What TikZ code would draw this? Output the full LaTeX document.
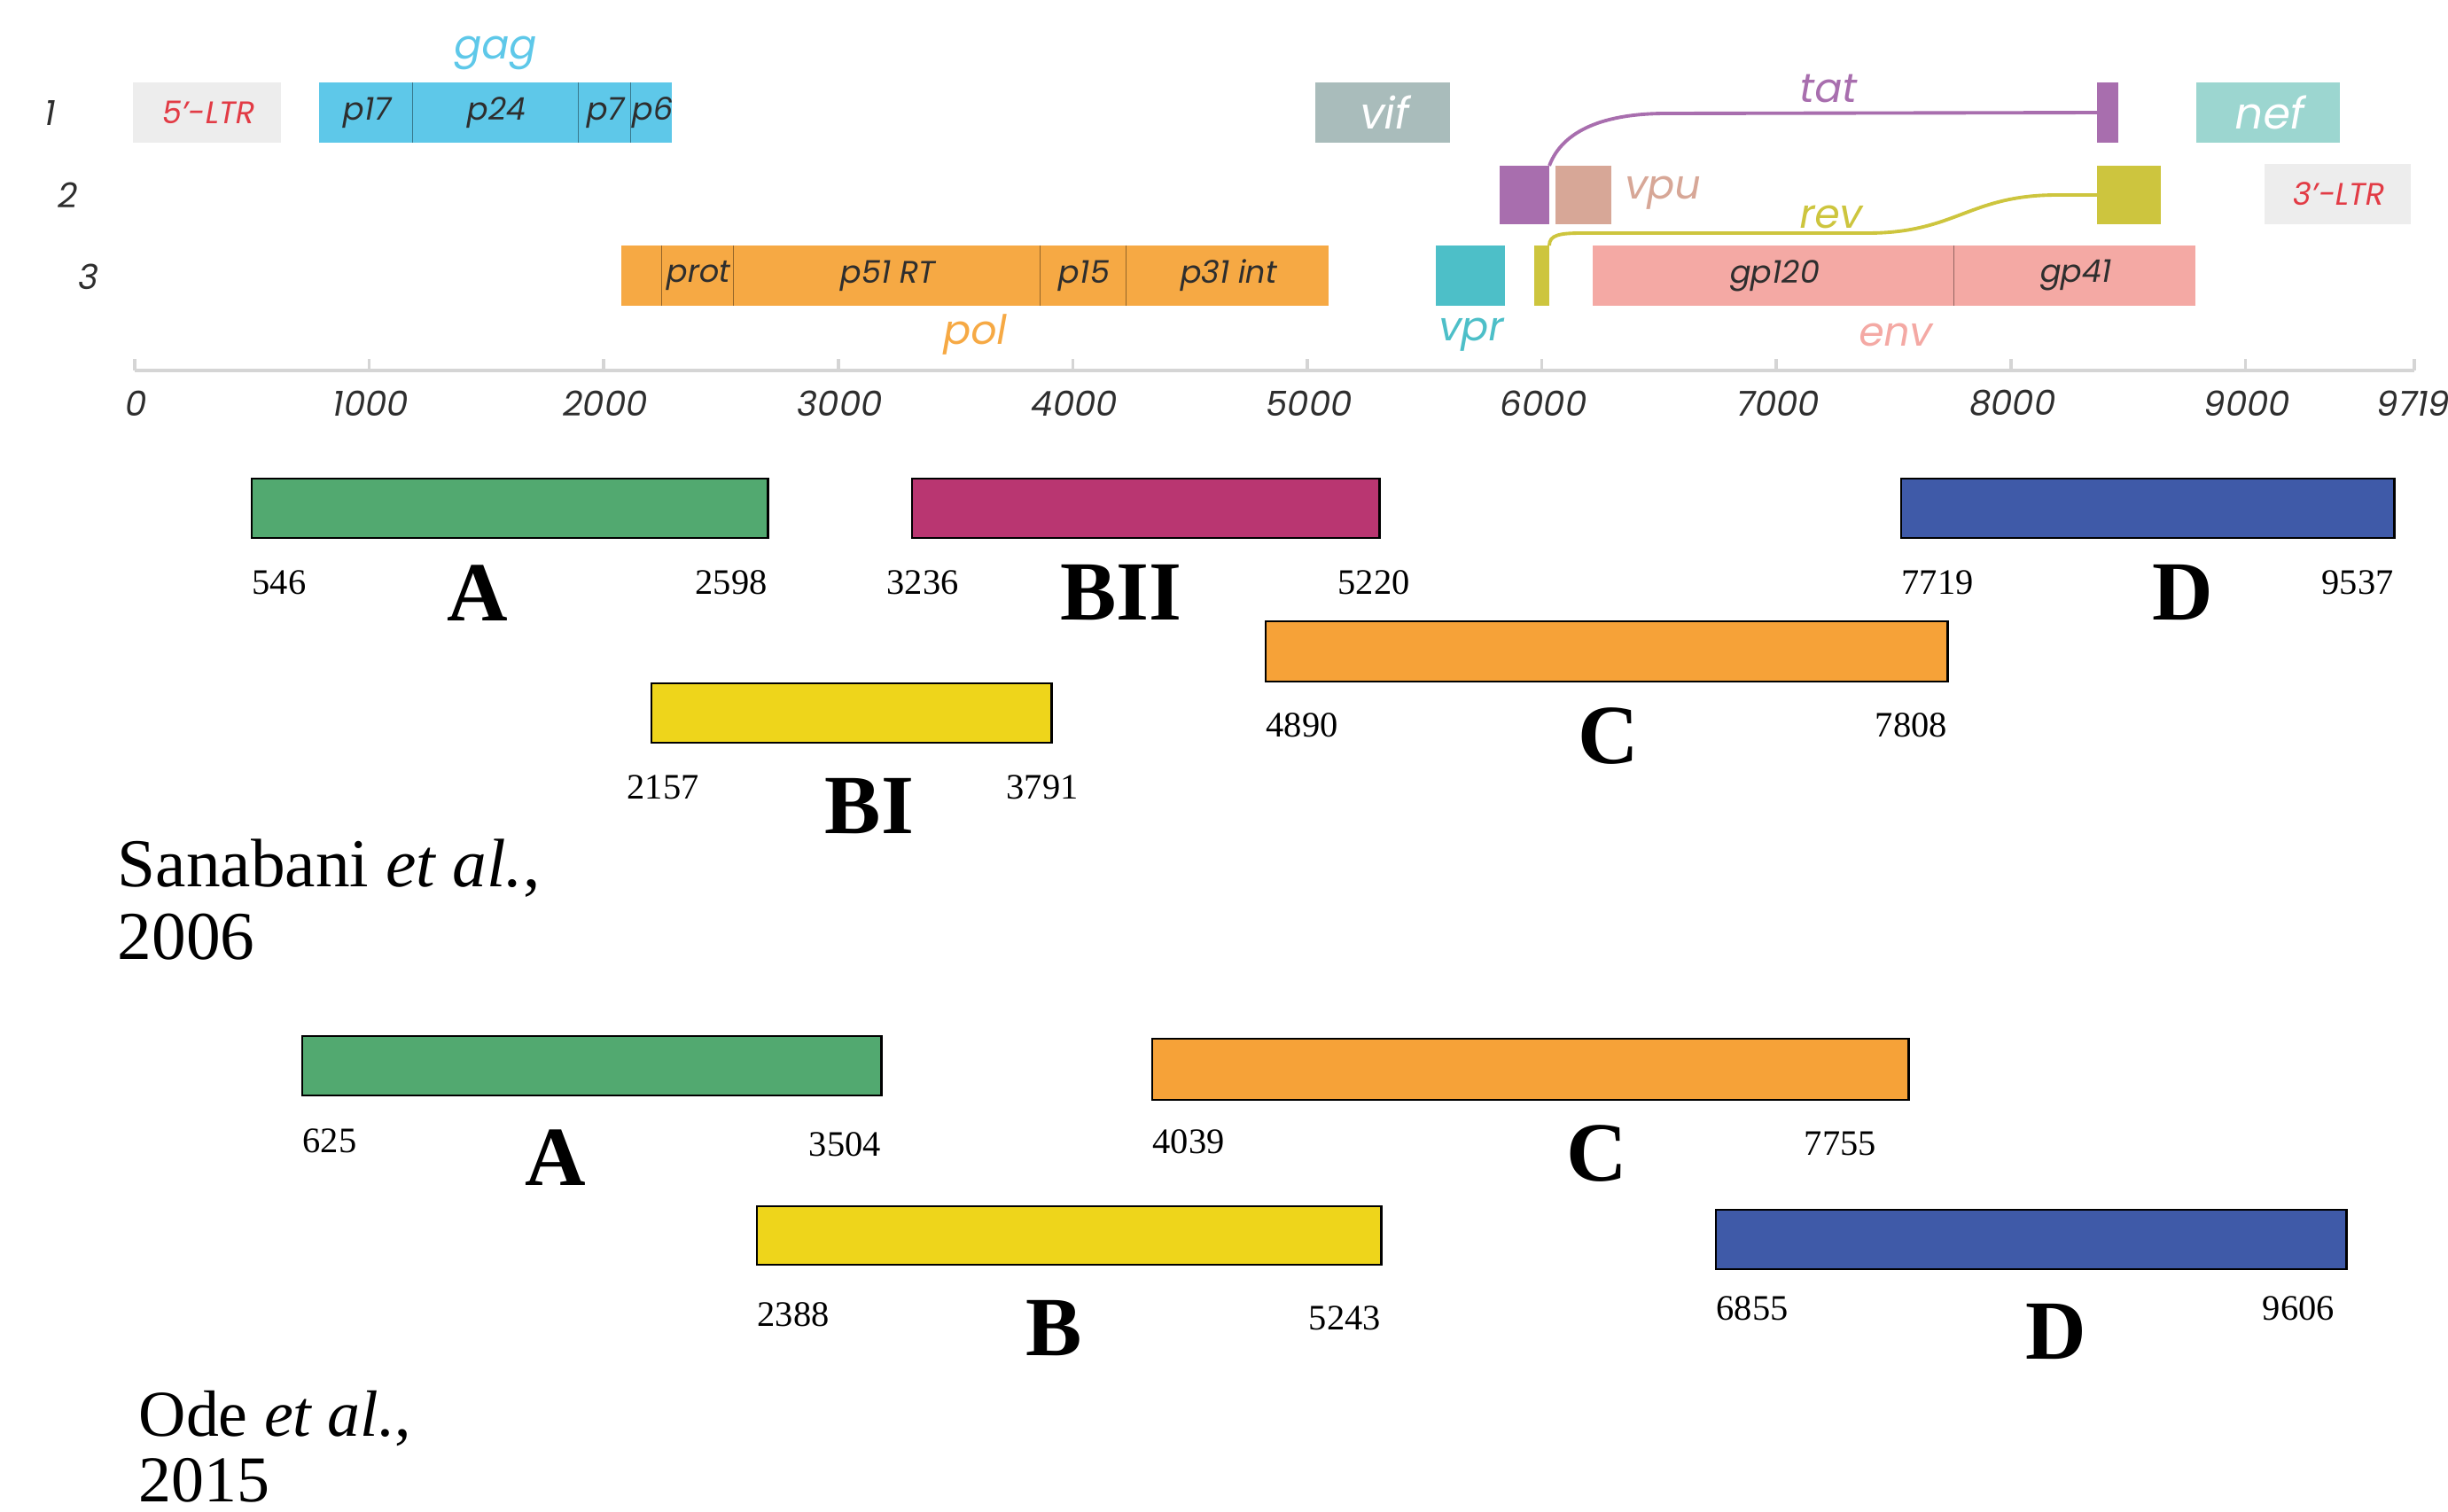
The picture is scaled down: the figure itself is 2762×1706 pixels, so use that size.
\documentclass[tikz,border=0pt]{standalone}
\usepackage{fontspec}
\setmainfont{Liberation Serif}
\newfontfamily\mapfont{Poppins}[FakeSlant=0.18]
\usetikzlibrary{positioning}

\definecolor{ltrgray}{HTML}{EDEDED}
\definecolor{ltrred}{HTML}{E23B45}
\definecolor{gagblue}{HTML}{5EC8E9}
\definecolor{vifgray}{HTML}{A9BCBB}
\definecolor{tatpurple}{HTML}{A86EAE}
\definecolor{nefteal}{HTML}{9CD6D0}
\definecolor{vpurose}{HTML}{D7A797}
\definecolor{revolive}{HTML}{CDC53E}
\definecolor{polorange}{HTML}{F6A944}
\definecolor{vprcyan}{HTML}{4DBFC8}
\definecolor{envpink}{HTML}{F4A9A4}
\definecolor{axisgray}{HTML}{D5D5D5}
\definecolor{inkgray}{HTML}{2E2E2E}
\definecolor{subA}{HTML}{52A970}
\definecolor{subBII}{HTML}{B93671}
\definecolor{subD}{HTML}{3F5AA8}
\definecolor{subC}{HTML}{F6A238}
\definecolor{subB}{HTML}{EED51B}

\begin{document}
\begin{tikzpicture}
   [
      x=0.01cm, y=-0.01cm,
      gene box/.style={rectangle, anchor=north west, inner sep=0pt, outer sep=0pt,
                       minimum height=0.68cm, text=inkgray,
                       font=\mapfont\fontsize{10}{12}\selectfont},
      divider/.style={line width=0.3pt},
      gene label/.style={inner sep=0pt, font=\mapfont\fontsize{13}{15}\selectfont},
      row number/.style={inner sep=0pt, text=inkgray, font=\mapfont\fontsize{11}{13}\selectfont},
      axis line/.style={line width=1pt, axisgray},
      tick label/.style={inner sep=0pt, text=inkgray, font=\mapfont\fontsize{11}{13}\selectfont},
      splice line/.style={line width=1.1pt},
      subtype bar/.style={rectangle, draw=black, line width=0.7pt, anchor=north west,
                          inner sep=0pt, outer sep=0pt, minimum height=0.67cm},
      pos label/.style={inner sep=0pt, font=\fontsize{11.5}{13}\selectfont},
      subtype letter/.style={inner sep=0pt, font=\bfseries\fontsize{27}{30}\selectfont},
      author/.style={inner sep=0pt, anchor=base west, font=\fontsize{22}{26}\selectfont}
   ]

   \useasboundingbox (0,0) rectangle (2762,1706);

   % =======================================================
   % Genome map: reading frames 1, 2, 3
   % =======================================================

   \node[row number] (row1) at (55,128) {1};
   \node[row number] (row2) at (75,220) {2};
   \node[row number] (row3) at (98,312) {3};

   % Frame 1
   \node[gene box, fill=ltrgray, text=ltrred, minimum width=1.67cm] (ltr5) at (150,93) {5’-LTR};
   \node[gene box, fill=gagblue, minimum width=1.05cm] (p17) at (360,93) {p17};
   \node[gene box, fill=gagblue, minimum width=1.87cm] (p24) at (465,93) {p24};
   \node[gene box, fill=gagblue, minimum width=0.59cm] (p7) at (652,93) {p7};
   \node[gene box, fill=gagblue, minimum width=0.47cm] (p6) at (711,93) {p6};
   \node[gene box, fill=vifgray, text=white, minimum width=1.52cm,
         font=\mapfont\fontsize{14}{16}\selectfont] (vif) at (1484,93) {vif};
   \node[gene box, fill=tatpurple, minimum width=0.24cm] (tat2) at (2366,93) {};
   \node[gene box, fill=nefteal, text=white, minimum width=1.62cm,
         font=\mapfont\fontsize{14}{16}\selectfont] (nef) at (2478,93) {nef};

   \draw[divider, gagblue!60!black] (p17.north east) -- (p17.south east);
   \draw[divider, gagblue!60!black] (p24.north east) -- (p24.south east);
   \draw[divider, gagblue!60!black] (p7.north east) -- (p7.south east);

   % Frame 2
   \node[gene box, fill=tatpurple, minimum width=0.56cm, minimum height=0.66cm] (tat1) at (1692,187) {};
   \node[gene box, fill=vpurose, minimum width=0.63cm, minimum height=0.66cm] (vpu) at (1755,187) {};
   \node[gene box, fill=revolive, minimum width=0.72cm, minimum height=0.66cm] (rev2) at (2366,187) {};
   \node[gene box, fill=ltrgray, text=ltrred, minimum width=1.65cm] (ltr3) at (2555,185) {3’-LTR};

   % Frame 3
   \node[gene box, fill=polorange, minimum width=0.45cm] (polstart) at (701,277) {};
   \node[gene box, fill=polorange, minimum width=0.81cm] (prot) at (746,277) {prot};
   \node[gene box, fill=polorange, minimum width=3.46cm] (p51) at (827,277) {p51 RT};
   \node[gene box, fill=polorange, minimum width=0.97cm] (p15) at (1173,277) {p15};
   \node[gene box, fill=polorange, minimum width=2.29cm] (p31) at (1270,277) {p31 int};
   \node[gene box, fill=vprcyan, minimum width=0.78cm] (vpr) at (1620,277) {};
   \node[gene box, fill=revolive, minimum width=0.17cm] (rev1) at (1731,277) {};
   \node[gene box, fill=envpink, minimum width=4.07cm] (gp120) at (1797,277) {gp120};
   \node[gene box, fill=envpink, minimum width=2.73cm] (gp41) at (2204,277) {gp41};

   \draw[divider, polorange!60!black] (polstart.north east) -- (polstart.south east);
   \draw[divider, polorange!60!black] (prot.north east) -- (prot.south east);
   \draw[divider, polorange!60!black] (p51.north east) -- (p51.south east);
   \draw[divider, polorange!60!black] (p15.north east) -- (p15.south east);
   \draw[divider, envpink!60!black] (gp120.north east) -- (gp120.south east);

   % Spliced genes
   \coordinate (tatbend) at (1880,128);
   \draw[splice line, tatpurple] (tat1.north east) .. controls +(15,-40) and +(-70,0) .. (tatbend) -- (tat2.west);

   \coordinate (revlow) at (1785,263);
   \coordinate (revrise) at (2107,263);
   \coordinate (revtop) at (2321,220);
   \draw[splice line, revolive] (rev1.north east) .. controls +(0,-12) and +(-25,0) .. (revlow)
      -- (revrise) .. controls +(100,0) and +(-100,0) .. (revtop) -- (rev2.west);

   % Gene names
   \node[gene label, text=gagblue] (gaglab) at (557,60) {gag};
   \node[gene label, text=tatpurple] (tatlab) at (2061,100) {tat};
   \node[gene label, text=vpurose] (vpulab) at (1874,218) {vpu};
   \node[gene label, text=revolive] (revlab) at (2064,245) {rev};
   \node[gene label, text=polorange] (pollab) at (1098,378) {pol};
   \node[gene label, text=vprcyan] (vprlab) at (1658,378) {vpr};
   \node[gene label, text=envpink] (envlab) at (2137,378) {env};

   % Axis
   \coordinate (ax0) at (152,418);
   \coordinate (axend) at (2724,418);
   \draw[axis line] (ax0) -- (axend);
   \foreach \k/\lab in {0/0,1/1000,2/2000,3/3000,4/4000,5/5000,6/6000,7/7000,8/8000,9/9000}
   {
      \draw[axis line] ({152+264.6*\k},418) -- ++(0,-13);
      \node[tick label] (tick\k) at ({152+264.6*\k},455) {\lab};
   }
   \draw[axis line] (axend) -- ++(0,-13);
   \node[tick label] (tickend) at (2721,455) {9719};

   % =======================================================
   % Sanabani et al., 2006
   % =======================================================

   \node[subtype bar, fill=subA, minimum width=5.82cm] (sanA) at (284,540) {};
   \node[subtype bar, fill=subBII, minimum width=5.27cm] (sanBII) at (1029,540) {};
   \node[subtype bar, fill=subD, minimum width=5.56cm] (sanD) at (2145,540) {};
   \node[subtype bar, fill=subC, minimum width=7.69cm, minimum height=0.68cm] (sanC) at (1428,701) {};
   \node[subtype bar, fill=subB, minimum width=4.51cm] (sanBI) at (735,771) {};

   % Break points
   \node[pos label, below right=0.36cm and 0cm of sanA.south west] (sanA1) {546};
   \node[pos label, below left=0.36cm and 0cm of sanA.south east] (sanA2) {2598};
   \node[pos label, below right=0.36cm and 0cm of sanBII.south west, xshift=-0.29cm] (sanBII1) {3236};
   \node[pos label, below left=0.36cm and 0cm of sanBII.south east, xshift=0.35cm] (sanBII2) {5220};
   \node[pos label, below right=0.36cm and 0cm of sanD.south west] (sanD1) {7719};
   \node[pos label, below left=0.36cm and 0cm of sanD.south east] (sanD2) {9537};
   \node[pos label, below right=0.35cm and 0cm of sanC.south west] (sanC1) {4890};
   \node[pos label, below left=0.35cm and 0cm of sanC.south east] (sanC2) {7808};
   \node[pos label, below right=0.36cm and 0cm of sanBI.south west, xshift=-0.28cm] (sanBI1) {2157};
   \node[pos label, below left=0.36cm and 0cm of sanBI.south east, xshift=0.31cm] (sanBI2) {3791};

   % Subtypes
   \node[subtype letter] (sanAlet) at (539,669) {A};
   \node[subtype letter] (sanBIIlet) at (1265,669) {BII};
   \node[subtype letter] (sanDlet) at (2463,669) {D};
   \node[subtype letter] (sanClet) at (1815,831) {C};
   \node[subtype letter] (sanBIlet) at (981,910) {BI};

   \node[author] (sanabani) at (132,1000) {Sanabani \textit{et al.},};
   \node[author] (sanyear) at (132,1082) {2006};

   % =======================================================
   % Ode et al., 2015
   % =======================================================

   \node[subtype bar, fill=subA, minimum width=6.53cm] (odeA) at (341,1169) {};
   \node[subtype bar, fill=subC, minimum width=8.53cm, minimum height=0.69cm] (odeC) at (1300,1172) {};
   \node[subtype bar, fill=subB, minimum width=7.04cm, minimum height=0.66cm] (odeB) at (854,1361) {};
   \node[subtype bar, fill=subD, minimum width=7.11cm] (odeD) at (1936,1365) {};

   % Break points
   \node[pos label, below right=0.37cm and 0cm of odeA.south west] (odeA1) {625};
   \node[pos label, below left=0.41cm and 0cm of odeA.south east] (odeA2) {3504};
   \node[pos label, below right=0.33cm and 0cm of odeC.south west] (odeC1) {4039};
   \node[pos label, below left=0.35cm and 0cm of odeC.south east, xshift=-0.36cm] (odeC2) {7755};
   \node[pos label, below right=0.42cm and 0cm of odeB.south west] (odeB1) {2388};
   \node[pos label, below left=0.46cm and 0cm of odeB.south east] (odeB2) {5243};
   \node[pos label, below right=0.30cm and 0cm of odeD.south west] (odeD1) {6855};
   \node[pos label, below left=0.30cm and 0cm of odeD.south east, xshift=-0.13cm] (odeD2) {9606};

   % Subtypes
   \node[subtype letter] (odeAlet) at (627,1306) {A};
   \node[subtype letter] (odeClet) at (1802,1302) {C};
   \node[subtype letter] (odeBlet) at (1189,1499) {B};
   \node[subtype letter] (odeDlet) at (2320,1502) {D};

   \node[author, font=\fontsize{21}{25}\selectfont] (ode) at (156,1620) {Ode \textit{et al.},};
   \node[author, font=\fontsize{21}{25}\selectfont] (odeyear) at (156,1694) {2015};

\end{tikzpicture}
\end{document}
